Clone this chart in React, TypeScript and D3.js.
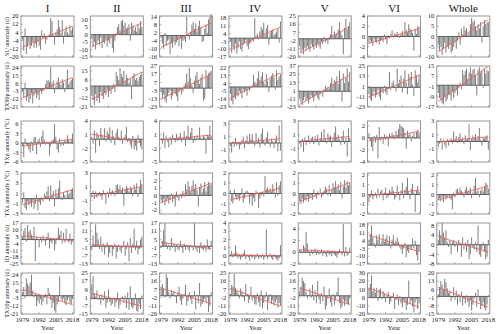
import React from "react";
import * as d3 from "d3";

const YEARS = d3.range(1979, 2019);
const REGIONS = ["I", "II", "III", "IV", "V", "VI", "Whole"];
const INDEX_LABELS = [
  "SU anomaly (d)",
  "TX90p anomaly (d)",
  "TXn anomaly (°C)",
  "TXx anomaly (°C)",
  "ID anomaly (d)",
  "TX10p anomaly (d)",
];
const YEAR_TICKS = [1979, 1992, 2005, 2018];

// ---- SU ----
const SU = [
  [-3, -14, 8, -17, -10, -6, -12, -9, -5, -11, -7, -11, -5, -9, -13, 6, -2, 3, -7, -3, 1, 2, 18, 15, 2, -8, 4, 7, 16, 9, 3, 16, -7, 5, 10, 4, 2, 11, 6, 9],
  [-3, -8, -5, -10, -6, -4, -7, -2, -9, -5, -6, -3, -8, -4, -6, -2, -9, -12, -4, 1, 5, 7, 3, 9, 10, 6, 8, 4, 5, 7, -4, 8, 6, 3, 5, 2, 7, 4, 9, 5],
  [-2, -6, -10, 2, -8, -4, -3, -14, -6, -9, -4, -7, -5, -3, -8, -2, -10, -4, -3, -5, 14, 1, -3, 3, 8, 10, 5, 9, 3, 7, 11, 6, -5, -4, 5, 8, 2, 12, 14, 16],
  [-3, -13, -8, -11, -5, -14, -9, -3, -10, -12, -6, -4, -2, -7, -10, -5, -4, -2, -3, 18, 2, 4, -1, 6, 10, 8, 14, 3, 9, 12, -6, 5, 7, 8, 3, 4, 6, 9, -4, 15],
  [-8, -15, -12, -17, -10, -13, -8, -11, -14, -6, -9, -12, -7, -10, -5, -8, -11, -3, -6, 2, -4, -2, -6, -1, 5, 14, 3, 8, 4, 6, 10, 18, 8, 4, -17, 12, 22, 10, 14, 18],
  [-1.5, -0.8, -1.2, -1.8, -0.5, -1, -1.3, -0.4, -1.6, -0.9, -0.7, -1.1, 0.4, -0.6, -1.5, 0.2, -0.3, 0.5, 1.2, -0.2, 0.6, 0.4, 0.9, 0.2, -0.3, 0.5, 1.1, 0.3, 2.8, 1.3, 0.8, 2.4, 1.6, 1.2, 0.7, -2.8, 1.5, 0.5, 2, 1.9],
  [-4, -7, -5, -9, -6, -3, -8, -5, -6, -4, -8, -7, -5, -3, -6, -2, 2, -4, 4, 1, 5, 3, 4, 1, 2, 6, 9, 7, 8, 5, 3, 6, 4, 7, -3, 5, 8, 6, 7, 7],
];

// ---- TX90p ----
const TX90P = [
  [-3, -10, 7, -14, -9, -16, -12, -5, -17, -8, -4, -11, -7, -13, -2, -6, -3, 1, 5, 9, 10, 8, 25, 6, 9, -5, 3, 8, 13, 6, 4, 11, 7, -4, 9, 22, 5, 8, 10, 12],
  [-10, -14, -19, -8, -15, -12, -17, -6, -10, -13, -7, -9, -4, -11, -5, -8, -3, 2, -6, 14, 10, 6, 18, 12, 9, 15, 4, 11, 8, 3, 7, -13, 10, 13, 6, 8, 5, 9, 11, 14],
  [-5, -12, -8, -15, -18, -10, -6, -3, -14, -9, -4, -7, -10, -16, -5, -2, -8, -4, 3, 6, 18, 8, 25, 12, 4, -6, 9, 15, 20, 10, 5, 13, 17, -15, -13, 22, 15, 18, 20, 21],
  [-8, -16, -20, -12, -14, -9, -11, -5, -7, -13, -3, -6, -4, -10, -2, -5, -1, 2, 14, 6, 4, 10, 18, 8, 12, 17, 6, 3, 15, 7, -6, 9, 13, 16, 11, -3, 19, 8, 12, 15],
  [-10, -16, -20, -13, -8, -14, -11, -18, -12, -6, -9, -15, -7, -4, -10, -13, -5, -2, -8, 2, 8, 3, 6, 4, 12, 20, 10, 16, 14, 22, 11, 30, 18, -15, 26, 12, 20, 34, 14, 28],
  [-8, -14, -16, -10, -5, -12, -9, -3, -11, -15, -4, -7, 2, -6, -9, -2, 18, -3, 5, 8, 1, -5, 22, 4, 9, 14, -6, 10, 20, 6, -8, 16, 12, 18, 3, -10, 20, 14, 6, 15],
  [-6, -10, -12, -14, -15, -9, -13, -11, -7, -8, -12, -5, -10, -6, -4, -8, -2, 2, -3, 12, 8, 11, 13, 5, 10, 14, 9, 12, 13, 8, -8, 12, 14, 10, 11, -2, 13, 9, 12, 11],
];

// ---- TXn ----
const TXN = [
  [-1, -4.5, 1.5, -0.5, -1, -2, -3, 0.5, -2.5, 1.8, 2, -3.5, 0.8, 1.5, -1.2, 2.2, 4, 1, -0.5, 0.5, -0.3, -4, -1, 0.8, 1.2, 6, 2, -2, -3, 1.5, -1, 0.4, -0.8, 1, 0.6, 2.5, 1.2, 0.3, 1, 3],
  [0.5, -1, 2, -3, 1.5, 0.8, -1.5, 2.5, 1, 0.3, 2.4, -0.5, 1.8, 1.2, 2.6, -0.8, 2, 0.6, -1.3, 1.5, 2.3, 0.5, -0.4, 1.9, -1, 0.4, 1, 2.7, -0.6, 0.3, -1.2, -2, 0.7, -2.3, -1.5, -2.5, 0.9, -0.8, -1.6, -2.2],
  [0.2, -1, 1.5, -2, 0.8, -0.5, -1.8, 0.5, -1.2, 1, 0.3, -0.7, 1.2, -0.4, 0.6, 1.4, -0.6, 0.2, 1.8, -1.5, 0.7, 3, 0.4, 1.5, 2.5, -0.8, 0.6, -0.3, 0.9, 0.2, 2.6, 0.4, -0.2, 0.8, 0.5, -3.2, 1, 0.6, 3, 0.8],
  [-0.5, -1.5, 0.3, -0.6, 0.8, -0.4, 0.2, -1, -0.3, 0.5, 1, -0.8, 0.4, 1.2, -0.2, 1.5, 0.6, 1.4, 0.3, -0.5, 1.6, 0.2, 0.8, -0.7, 1.5, 2.3, 0.5, -0.4, 0.9, 1.8, 0.4, -0.6, 0.7, 0.3, -0.8, 0.5, 1.2, -1.3, 2.8, -1.2],
  [-0.3, -0.8, 0.4, -1.5, 0.6, -0.5, 0.2, 0.9, -0.3, 0.5, 0.7, -0.4, 0.8, 0.3, 1, -0.6, 0.5, 1.4, 0.2, 1.8, 0.4, -0.3, 1.2, 0.7, 0.9, -0.8, 0.5, 1.3, 2.2, 0.6, 1, 0.3, -0.5, 0.8, 1.6, -0.4, 0.6, -2.2, 1.9, 0.5],
  [0.8, -0.5, -1.5, -2.2, 0.3, -0.8, 0.5, -3.4, 1.8, -0.4, 0.2, -1, 0.6, -0.3, 0.4, -1.4, 0.7, 0.2, 0.9, 0.5, -0.2, 1.2, 0.4, 1.5, 2.3, 2, 1.8, 1.6, 0.8, -1.8, 1.2, 0.5, 0.7, -0.6, 0.3, 0.8, -0.2, 1, 1.4, 0.9],
  [-0.8, -0.3, 0.5, -1.2, 0.3, -0.5, -1, 0.4, -0.6, 0.2, 0.5, -0.3, 1.5, 0.4, 0.8, -0.2, 0.7, 1.2, 0.3, 0.6, -0.4, 0.9, 0.2, 0.5, 2.5, -1.3, 0.4, 0.9, 0.6, 1.1, 0.3, 0.8, 2, 0.2, -0.6, 0.5, 0.4, 0.7, 0.9, -1.2],
];

// ---- TXx ----
const TXX = [
  [-0.8, 1.2, -1.8, -2.2, -0.6, -1.3, -0.9, -1.6, -0.4, -2, -1.1, 0.8, -2.3, -0.7, -1.2, 0.3, -0.6, 1, 0.5, 1.4, 2.4, -0.5, 2.6, 0.8, 1.5, -1.5, 1.8, 0.6, 2, 3.5, 0.4, -0.3, 1.2, 0.7, 0.2, 1.6, 0.8, 1.2, 1.7, 2],
  [-0.5, 0.4, -0.8, 0.3, -0.6, -0.3, 0.2, -0.4, -0.9, 0.5, -0.2, -1.5, 0.3, -0.6, 0.8, -0.3, 0.5, 0.2, -0.4, 1.2, 1.3, 0.7, 1.2, 0.4, 0.9, -1.8, 0.6, 1.1, 0.8, 0.3, 1, 0.7, -0.4, 1.3, 0.6, 1.5, -0.5, 0.9, 2, 1.4],
  [-0.7, -1, -0.5, -1.3, -0.8, -0.4, -1.1, -0.6, 0.3, -0.9, -0.5, -1.5, 0.5, -0.3, -0.7, 0.2, -0.4, 0.6, -0.2, 1.5, 0.8, 1.9, 1.2, 0.4, 1.3, 2, 0.9, 1.5, 0.7, -1.5, 1.1, 1.6, 0.4, 0.9, 1.8, 0.5, 1.2, 1.8, 1.4, 1.6],
  [0.3, -0.8, -1, 0.4, -0.3, -0.6, -0.4, -0.7, -0.2, 0.5, -0.9, -0.5, 0.2, 0.3, 0.1, -1, -0.3, -1.2, -0.4, -0.8, 0.3, 0.1, -1.4, -0.5, -0.2, 0.2, -0.3, 1.7, 0.4, 0.6, 0.3, 0.5, 0.2, 0.9, 0.4, -0.4, 1.1, -0.2, 0.8, 1.2],
  [-0.8, -1, -0.5, -0.9, -0.6, -0.7, -0.3, -0.8, -0.4, -0.2, -0.6, 0.4, -0.3, -0.5, 0.2, -0.1, 0.5, -0.4, -0.2, 0.3, 0.7, 0.5, -0.2, 0.8, -0.3, 0.4, 1, 0.6, 1.2, 0.5, 0.9, 0.3, 1.1, -0.5, 0.7, 1.3, 0.6, 1.2, 0.8, 1.1],
  [-0.8, -0.3, 0.4, -0.5, -0.2, 0.2, -0.4, 0.6, -0.3, 0.3, 0.5, -0.6, 0.2, 0.7, -0.4, -0.2, 0.5, 0.3, 0.8, 0.4, -0.5, -0.3, 0.9, 0.2, -0.6, 0.4, 1.2, -0.4, 0.5, 0.8, 1.7, 0.3, -0.5, 0.6, 1.1, 0.2, -1.8, 0.4, 0.9, 0.3],
  [-0.6, -0.4, -0.7, -0.3, -0.8, -0.2, -0.5, -0.3, -0.1, -0.4, -0.6, -1.5, 0.2, -0.3, 0.5, 0.6, 0.3, 0.7, 0.4, 0.2, -0.3, 0.5, 0.8, 0.3, 0.4, 0.7, -0.4, 0.2, 0.9, 1.7, 0.3, 0.5, -0.3, 0.4, 0.6, 0.3, 0.8, 1.2, 1, 0.6],
];

// ---- ID ----
const ID = [
  [3, 9, 12, -2, 15, 8, 10, 5, 2, 13, -22, 3, 1, -8, 2, -3, 4, -1, -6, 3, 7, -9, -2, -4, 1, -11, -5, 2, 12, 5, 9, -4, 7, -3, 11, -1, -3, 6, -5, -2],
  [-3, 8, 1, 16, 10, 5, -2, 7, -4, 2, -6, -1, 3, -8, -5, 1, -7, -2, 2, -9, -4, 1, -3, -5, -1, 4, -7, -2, 3, -11, 6, -5, 2, 13, -3, 4, -6, -2, 5, 7],
  [-1, 4, 12, 17, 3, -2, 1, -3, 6, -1, 2, -4, 1, -2, -3, 4, -1, -5, 2, -3, 1, -2, -4, 0.5, -1, -3, 17, -2, -4, -1, -5, 3, -2, -3, 1, -4, 5, -2, -3, 4],
  [0.2, 0.6, -0.2, 0.3, 1.3, 0.4, -0.3, 0.2, -0.5, -0.2, 0.3, 0.7, -0.4, 0.1, -0.2, -0.6, 0.2, -0.3, 0.1, -0.5, -0.2, 0.3, -0.4, -0.1, -0.3, 0.2, -0.5, -0.2, 3.2, -0.4, -0.1, 0.3, -0.3, -0.5, 0.2, -0.2, -0.4, -0.6, -0.3, 1.3],
  [0.5, 0.3, -0.2, 1.2, 0.8, 3.5, 1.5, 0.2, -0.6, 0.4, -0.3, 0.2, 0.6, -0.5, 0.3, -0.4, -0.2, 0.5, -0.6, 0.2, -0.3, -0.8, 0.4, -0.5, -0.2, -0.7, 0.3, -0.4, -0.6, -0.9, -0.3, 0.5, 0.2, -0.5, 4.8, -0.7, 0.9, -0.6, -0.3, 0.8],
  [5, 10, 18, 7, 2, -2, 9, 5, 10, -1, 4, 10, 3, 6, 9, 2, 8, -3, 5, 9, 1, 4, 7, 3, -2, -4, -8, -3, 2, -11, -5, -7, -2, -4, 6, -3, 4, -9, -14, -6],
  [2, 6, 4, 9, 5, 3, 6, 1, -1, 2, -4, 1, 2, -1, 1, -3, 2, 0.5, -5, 3, -2, 1, -3, 2, -6, -4, 3, -1, -2, 1, -3, 8, -4, -5, -2, 1, -3, -6, -5, 2],
];

// ---- TX10p ----
const TX10P = [
  [4, 10, -3, 20, 14, 11, 15, 24, 6, -2, 3, -12, -6, -9, -4, -11, -7, -3, 2, -10, 9, 3, -5, -14, -8, -17, -19, -10, -7, 22, -4, -6, -3, -9, -11, -5, -2, -8, -10, -4],
  [14, 22, 5, 2, 8, -1, 3, -6, 4, -2, 7, -9, -4, 9, -3, -7, -5, 1, -8, -4, 6, -10, -6, 1, 2, -4, 3, -9, 6, -11, 12, -8, -10, -7, 5, -12, -13, -5, -10, 3],
  [10, 13, 8, -2, 24, 20, 4, -3, 6, 2, 5, -1, -8, 3, 10, -5, -10, -3, 2, 12, -11, -6, 4, -4, -9, -2, 5, -15, 1, -8, 14, -12, -9, -6, -3, -7, -2, -18, -11, 4],
  [2, 12, 10, 24, 9, 6, 3, -3, 8, 5, -2, -6, 13, 1, -8, -4, 10, -5, -2, -9, -10, 3, -7, -12, 6, -14, -8, -3, 4, -16, -6, 2, -9, -5, -11, -7, -4, -13, -8, -11],
  [5, 10, 20, 16, 14, 4, -3, 1, 8, -2, 12, -5, 6, -8, 16, -4, -9, 3, -6, 10, -15, -11, -3, 8, -7, -12, 2, -10, -5, 4, 20, -8, -14, -12, -4, -11, -6, -9, -10, -3],
  [12, 17, 27, 8, 12, 6, 12, -4, 10, 11, -2, 8, 5, -6, 3, 7, -8, -5, 2, 6, -14, -3, 4, -9, 2, -7, -12, -3, -6, -15, -9, 21, -8, -4, -11, -18, -6, -2, -14, -7],
  [2, 8, 13, 10, 6, 15, 12, 7, 3, 5, -4, -1, 8, -3, 5, -7, 2, -5, 4, -8, -2, -6, 1, -5, -9, -3, -12, -7, -2, 3, -9, 6, -4, -11, -8, -5, -10, -12, -7, 1],
];

const ROW_DATA = [SU, TX90P, TXN, TXX, ID, TX10P];

// y tick labels per row / region
const ROW_TICKS = [
  [[20, 12, 4, -4, -12, -20], [10, 5, 0, -5, -10, -15], [14, 8, 2, -4, -10, -16], [18, 11, 4, -3, -10, -17], [25, 16, 7, -2, -11, -20], [4, 2, 0, -2, -4], [10, 5, 0, -5, -10]],
  [[24, 15, 6, -3, -12, -21], [15, 6, -3, -12, -21], [27, 17, 7, -3, -13, -23], [22, 13, 4, -5, -14, -23], [37, 25, 13, 1, -11, -23], [25, 13, 1, -11, -23], [15, 7, -1, -9, -17]],
  [[6, 3, 0, -3, -6], [4, 1, -2, -5], [4, 1, -2, -5], [3, 1, -1, -3], [3, 1, -1, -3], [2, 0, -2, -4], [3, 1, -1, -3]],
  [[5, 3, 1, -1, -3], [3, 1, -1, -3], [3, 2, 1, 0, -1, -2], [2, 1, 0, -1, -2], [2, 1, 0, -1, -2], [2, 1, 0, -1, -2], [2, 1, 0, -1, -2]],
  [[17, 10, 3, -4, -11, -18, -25], [17, 11, 5, -1, -7, -13], [17, 11, 5, -1, -7, -13], [4, 3, 2, 1, 0, -1], [4, 2, 0, -2], [18, 11, 4, -3, -10, -17], [8, 4, 0, -4, -8]],
  [[24, 15, 6, -3, -12, -21], [25, 17, 9, 1, -7, -15], [25, 16, 7, -2, -11, -20], [25, 16, 7, -2, -11, -20], [25, 16, 7, -2, -11, -20], [30, 20, 10, 0, -10, -20], [20, 13, 6, -1, -8, -15]],
];

const ROW_DOMAINS = [
  [[-20, 20], [-15, 12.5], [-16, 14.5], [-17, 20], [-20, 25], [-4, 4], [-10, 10]],
  [[-21, 26], [-21, 20], [-23, 27], [-23, 24], [-23, 37], [-23, 25], [-17, 15]],
  [[-6, 7], [-5, 4], [-5, 4], [-3, 3.5], [-3, 3], [-4, 2.8], [-3, 3]],
  [[-3, 5], [-3, 3], [-2.5, 3], [-2, 2], [-2, 2], [-2, 2.2], [-2, 2.2]],
  [[-25, 17], [-13, 17], [-13, 17], [-1, 4], [-2, 5], [-17, 20], [-8, 9]],
  [[-21, 26], [-15, 25], [-20, 25], [-20, 25], [-20, 25], [-20, 30], [-15, 20]],
];

const COL_LEFT0 = 21;
const COL_STEP = 69.3;
const PANEL_W = 53;
const PANEL_H = 41;
const ROW_TOPS = [16, 66, 121, 173, 223, 273];
const FONT = "'Liberation Serif', 'Times New Roman', serif";

function regression(xs: number[], ys: number[]) {
  const mx = d3.mean(xs) as number;
  const my = d3.mean(ys) as number;
  let num = 0;
  let den = 0;
  xs.forEach((x, i) => {
    num += (x - mx) * (ys[i] - my);
    den += (x - mx) * (x - mx);
  });
  const b = num / den;
  return (x: number) => my + b * (x - mx);
}

function Panel({ left, top, values, ticks, domain, showX }: any) {
  const x = d3.scaleBand<number>().domain(YEARS).range([left + 1, left + PANEL_W - 1]).paddingInner(0.25);
  const y = d3.scaleLinear().domain(domain).range([top + PANEL_H, top]);
  const fit = regression(YEARS, values);
  const xc = (yr: number) => (x(yr) as number) + x.bandwidth() / 2;
  const line = d3
    .line<number>()
    .x((d) => xc(d))
    .y((d) => y(fit(d)));
  return (
    <g>
      {values.map((v: number, i: number) => (
        <rect
          key={i}
          x={x(YEARS[i])}
          width={x.bandwidth()}
          y={Math.min(y(v), y(0))}
          height={Math.abs(y(v) - y(0))}
          fill="#7a7a7a"
        />
      ))}
      <line x1={left} x2={left + PANEL_W} y1={y(0)} y2={y(0)} stroke="#555" strokeWidth={0.9} />
      <path d={line([YEARS[0], YEARS[YEARS.length - 1]]) as string} stroke="#ee5a5a" strokeWidth={1} fill="none" opacity={0.85} />
      <rect x={left} y={top} width={PANEL_W} height={PANEL_H} fill="none" stroke="#8a8a8a" strokeWidth={0.9} />
      {ticks.map((t: number) => (
        <g key={t}>
          <line x1={left} x2={left + 2} y1={y(t)} y2={y(t)} stroke="#8a8a8a" strokeWidth={0.6} />
          <text x={left - 2.5} y={y(t)} dy="0.33em" textAnchor="end" fontSize={6.6} fontFamily={FONT} fill="#222">
            {t}
          </text>
        </g>
      ))}
      {YEAR_TICKS.map((yr) => (
        <g key={yr}>
          <line x1={xc(yr)} x2={xc(yr)} y1={top + PANEL_H} y2={top + PANEL_H - 2} stroke="#8a8a8a" strokeWidth={0.6} />
          {showX && (
            <text x={xc(yr)} y={top + PANEL_H + 8} textAnchor="middle" fontSize={6.8} fontFamily={FONT} fill="#222">
              {yr}
            </text>
          )}
        </g>
      ))}
      {showX && (
        <text x={left + PANEL_W / 2} y={top + PANEL_H + 16} textAnchor="middle" fontSize={7} fontFamily={FONT} fill="#222">
          Year
        </text>
      )}
    </g>
  );
}

export default function App() {
  return (
    <svg width={500} height={334} style={{ position: "absolute", left: 0, top: 0, background: "#fff" }}>
      {REGIONS.map((r, c) => (
        <text key={r} x={COL_LEFT0 + c * COL_STEP + PANEL_W / 2} y={12} textAnchor="middle" fontSize={11} fontFamily={FONT} fill="#111">
          {r}
        </text>
      ))}
      {INDEX_LABELS.map((lab, r) => (
        <text
          key={lab}
          transform={`translate(9,${ROW_TOPS[r] + PANEL_H / 2}) rotate(-90)`}
          textAnchor="middle"
          fontSize={6.1}
          fontFamily={FONT}
          fill="#222"
        >
          {lab}
        </text>
      ))}
      {ROW_DATA.map((rowVals, r) =>
        rowVals.map((vals, c) => (
          <Panel
            key={`${r}-${c}`}
            left={COL_LEFT0 + c * COL_STEP}
            top={ROW_TOPS[r]}
            values={vals}
            ticks={ROW_TICKS[r][c]}
            domain={ROW_DOMAINS[r][c]}
            showX={r === ROW_DATA.length - 1}
          />
        ))
      )}
    </svg>
  );
}
